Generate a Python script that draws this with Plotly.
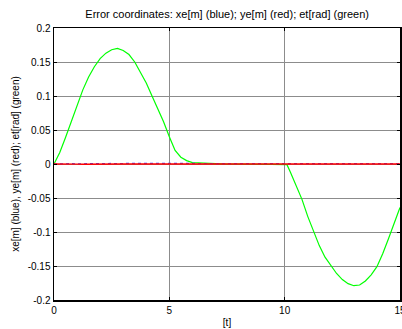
import plotly.graph_objects as go

# time samples
t = [0, 0.25, 0.5, 0.75, 1.0, 1.25, 1.5, 1.75, 2.0, 2.25, 2.5, 2.75, 3.0, 3.25, 3.5,
     3.75, 4.0, 4.25, 4.5, 4.75, 5.0, 5.25, 5.5, 5.75, 6.0, 6.5, 7.0, 7.5, 8.0, 8.5,
     9.0, 9.5, 10.0, 10.1, 10.25, 10.5, 10.75, 11.0, 11.25, 11.5, 11.75, 12.0, 12.25,
     12.5, 12.75, 13.0, 13.25, 13.5, 13.75, 14.0, 14.25, 14.5, 14.75, 15.0]

# et[rad] (green)
et = [0, 0.017, 0.039, 0.063, 0.087, 0.109, 0.128, 0.143, 0.155, 0.163, 0.168, 0.170,
      0.167, 0.161, 0.150, 0.135, 0.119, 0.100, 0.082, 0.062, 0.040, 0.020, 0.010,
      0.005, 0.002, 0.001, 0.0, 0.0, 0.0, 0.0,
      0.0, 0.0, 0.0, -0.001, -0.012, -0.033, -0.052, -0.077, -0.100, -0.120, -0.137,
      -0.150, -0.161, -0.170, -0.176, -0.179, -0.178, -0.172, -0.163, -0.151, -0.132,
      -0.110, -0.086, -0.064]

# xe[m] (blue)
xe = [0, 0.0005, 0.0008, 0.0005, 0.0003, 0.0005, 0.0008, 0.0006, 0.0004, 0.0006,
      0.0008, 0.0007, 0.0005, 0.0006, 0.0008, 0.0009, 0.001, 0.0011, 0.0012, 0.0012,
      0.0012, 0.0011, 0.001, 0.0009, 0.0008, 0.0007, 0.0007, 0.0006, 0.0006, 0.0006,
      0.0005, 0.0005, 0.0005, 0.0005, 0.0006, 0.0007, 0.0008, 0.0009, 0.001, 0.001,
      0.001, 0.0011, 0.0011, 0.0011, 0.0011, 0.001, 0.001, 0.0009, 0.0009, 0.0008,
      0.0007, 0.0006, 0.0005, 0.0005]

# ye[m] (red)
ye = [0, -0.0003, -0.0004, -0.0003, -0.0002, -0.0003, -0.0004, -0.0003, -0.0002,
      -0.0003, -0.0003, -0.0002, -0.0001, 0.0, 0.0001, 0.0001, 0.0002, 0.0002, 0.0002,
      0.0001, 0.0001, 0.0, 0.0, 0.0, 0.0, 0.0, 0.0, 0.0, 0.0, 0.0,
      0.0, 0.0, 0.0, 0.0, 0.0, 0.0001, 0.0001, 0.0001, 0.0001, 0.0001, 0.0001, 0.0001,
      0.0001, 0.0001, 0.0001, 0.0001, 0.0001, 0.0001, 0.0001, 0.0001, 0.0001, 0.0001,
      0.0001, 0.0001]

x_tickvals = [0, 5, 10, 15]
x_ticktext = ["0", "5", "10", "15"]
y_tickvals = [0.2, 0.15, 0.1, 0.05, 0, -0.05, -0.1, -0.15, -0.2]
y_ticktext = ["0.2", "0.15", "0.1", "0.05", "0", "-0.05", "-0.1", "-0.15", "-0.2"]

fig = go.Figure()
fig.add_trace(go.Scatter(x=t, y=et, mode="lines", line=dict(color="#00ff00", width=1.2),
                         hoverinfo="skip"))
fig.add_trace(go.Scatter(x=t, y=xe, mode="lines", line=dict(color="#4040ff", width=1.2, dash="dot"),
                         hoverinfo="skip"))
fig.add_trace(go.Scatter(x=t, y=ye, mode="lines", line=dict(color="#ff0000", width=1.4),
                         hoverinfo="skip"))

font = "Liberation Sans, Arial, sans-serif"
fig.update_layout(
    width=402, height=329,
    margin=dict(l=54, r=2, t=28, b=29),
    paper_bgcolor="white", plot_bgcolor="white",
    showlegend=False,
    font=dict(family=font, size=10, color="black"),
    title=dict(text="Error coordinates: xe[m] (blue); ye[m] (red); et[rad] (green)",
               x=0.565, xanchor="center", y=0.957, yanchor="middle",
               font=dict(family=font, size=11, color="black")),
    xaxis=dict(range=[0, 15], tickvals=x_tickvals, ticktext=x_ticktext,
               showgrid=True, gridcolor="#8c8c8c", gridwidth=1, automargin=False,
               showline=True, linecolor="black", linewidth=1.5, mirror="allticks",
               ticks="inside", ticklen=3, tickcolor="black", ticklabeloverflow="allow",
               zeroline=False, title=dict(text="[t]", standoff=4, font=dict(size=10)),
               tickfont=dict(size=10)),
    yaxis=dict(range=[-0.2, 0.2], tickvals=y_tickvals, ticktext=y_ticktext,
               showgrid=True, gridcolor="#8c8c8c", gridwidth=1, automargin=False,
               showline=True, linecolor="black", linewidth=1.5, mirror="allticks",
               ticks="inside", ticklen=3, tickcolor="black",
               zeroline=False,
               title=dict(text="xe[m] (blue), ye[m] (red); et[rad] (green)", standoff=6,
                          font=dict(size=10)),
               tickfont=dict(size=10)),
)

fig.write_html("out.html", config={"displayModeBar": False, "staticPlot": True},
               post_script="document.body.style.margin='0';document.body.style.overflow='hidden';")
